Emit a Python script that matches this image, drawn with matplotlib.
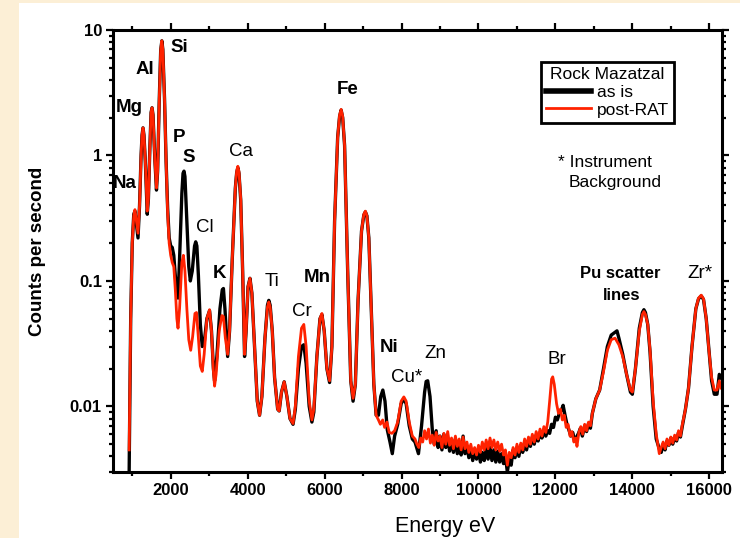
import matplotlib
matplotlib.use("Agg")
import matplotlib.pyplot as plt
from matplotlib.ticker import FixedLocator, FixedFormatter, LogLocator, NullFormatter, MultipleLocator
from matplotlib.patches import Rectangle

plt.rcParams['font.family'] = ['Liberation Sans', 'DejaVu Sans']

# APXS spectrum of rock Mazatzal
# "as is" (black)
energy_asis = [920, 925, 960, 1000, 1040, 1070, 1110, 1150, 1190, 1230,
               1255, 1280, 1305, 1340, 1390, 1420, 1460, 1490, 1515, 1540,
               1590, 1630, 1660, 1700, 1740, 1770, 1795, 1840, 1880, 1920,
               1960, 2000, 2040, 2080, 2120, 2160, 2190, 2230, 2290, 2320,
               2345, 2370, 2420, 2470, 2510, 2560, 2620, 2650, 2680, 2720,
               2770, 2820, 2870, 2940, 3010, 3060, 3110, 3140, 3200, 3280,
               3340, 3370, 3410, 3480, 3530, 3600, 3680, 3715, 3745, 3775,
               3820, 3870, 3920, 3960, 4010, 4060, 4110, 4180, 4250, 4310,
               4370, 4450, 4515, 4550, 4585, 4640, 4700, 4780, 4820, 4880,
               4950, 5020, 5100, 5180, 5240, 5320, 5400, 5460, 5520, 5600,
               5670, 5720, 5800, 5880, 5930, 5990, 6060, 6130, 6190, 6260,
               6340, 6390, 6430, 6470, 6520, 6600, 6680, 6740, 6800, 6870,
               6960, 7020, 7060, 7100, 7150, 7200, 7280, 7340, 7400, 7460,
               7514, 7570, 7630, 7700, 7760, 7820, 7900, 7990, 8060, 8120,
               8200, 8280, 8350, 8440, 8520, 8600, 8640, 8680, 8740, 8800,
               8850, 8900, 8950, 9000, 9050, 9100, 9150, 9200, 9250, 9300,
               9350, 9400, 9450, 9500, 9550, 9600, 9650, 9700, 9750, 9800,
               9850, 9900, 9950, 10000, 10050, 10100, 10150, 10200, 10250, 10300,
               10350, 10400, 10450, 10500, 10550, 10600, 10650, 10700, 10750, 10800,
               10850, 10900, 10950, 11000, 11050, 11100, 11150, 11200, 11250, 11300,
               11350, 11400, 11450, 11500, 11550, 11600, 11650, 11700, 11750,
               11800, 11850, 11900, 11950, 12000, 12050, 12100, 12150, 12200, 12250,
               12300, 12350, 12400, 12450, 12500, 12550, 12600, 12650, 12700, 12760,
               12810, 12860, 12910, 12960, 13050, 13150, 13250, 13350, 13450, 13550,
               13600, 13650, 13750, 13850, 13950, 14000, 14080, 14180, 14260, 14300,
               14340, 14400, 14460, 14540, 14620, 14700, 14750, 14800, 14850, 14900,
               14950, 15000, 15050, 15100, 15150, 15200, 15250, 15300, 15380, 15460,
               15550, 15650, 15720, 15790, 15850, 15920, 15990, 16060, 16130, 16200,
               16260, 16300]
counts_asis = [0.003, 0.0045, 0.05, 0.2, 0.34, 0.36, 0.28, 0.22, 0.40, 1.0,
               1.45, 1.66, 1.45, 0.9, 0.34, 0.45, 1.2, 2.2, 2.4, 2.1,
               0.9, 0.53, 0.75, 2.6, 6.9, 8.2, 7.0, 2.8, 0.9, 0.38,
               0.22, 0.19, 0.185, 0.16, 0.11, 0.08, 0.073, 0.15, 0.5, 0.72,
               0.75, 0.68, 0.3, 0.13, 0.1, 0.12, 0.19, 0.205, 0.19, 0.11,
               0.045, 0.030, 0.032, 0.05, 0.058, 0.04, 0.02, 0.016, 0.025, 0.06,
               0.085, 0.087, 0.06, 0.025, 0.04, 0.15, 0.55, 0.73, 0.8, 0.72,
               0.44, 0.12, 0.025, 0.04, 0.09, 0.105, 0.08, 0.03, 0.011, 0.0085,
               0.012, 0.035, 0.064, 0.07, 0.064, 0.04, 0.017, 0.0095, 0.0092, 0.013,
               0.0157, 0.012, 0.008, 0.0072, 0.0095, 0.02, 0.03, 0.031, 0.022, 0.01,
               0.0075, 0.009, 0.025, 0.05, 0.054, 0.04, 0.02, 0.0155, 0.03, 0.3,
               1.4, 2.05, 2.3, 2.0, 1.2, 0.12, 0.016, 0.011, 0.015, 0.07,
               0.25, 0.335, 0.355, 0.33, 0.22, 0.08, 0.015, 0.0085, 0.0085, 0.012,
               0.0135, 0.011, 0.0065, 0.0052, 0.0042, 0.0058, 0.0072, 0.0105, 0.0115, 0.0105,
               0.007, 0.0055, 0.0052, 0.0042, 0.007, 0.013, 0.0158, 0.016, 0.012, 0.0065,
               0.005, 0.0064, 0.0047, 0.0058, 0.0045, 0.006, 0.0047, 0.0056, 0.0044, 0.0054,
               0.0043, 0.0055, 0.0042, 0.0052, 0.0041, 0.0058, 0.0042, 0.0048, 0.0039, 0.0046,
               0.0037, 0.0044, 0.0038, 0.0045, 0.0036, 0.0043, 0.0037, 0.0046, 0.0038, 0.0047,
               0.0037, 0.0045, 0.0036, 0.0044, 0.0036, 0.0042, 0.0035, 0.004, 0.003, 0.0038,
               0.0034, 0.0045, 0.0039, 0.0047, 0.004, 0.0049, 0.0043, 0.0052, 0.0045, 0.0054,
               0.0048, 0.0057, 0.005, 0.0059, 0.0053, 0.0062, 0.0056, 0.0065, 0.0058,
               0.0064, 0.0061, 0.0072, 0.0068, 0.0082, 0.0078, 0.0088, 0.0092, 0.0102, 0.0085,
               0.0072, 0.0065, 0.0058, 0.0062, 0.0053, 0.0057, 0.0061, 0.0067, 0.0058, 0.007,
               0.0063, 0.0073, 0.0067, 0.0088, 0.0115, 0.0135, 0.02, 0.03, 0.037, 0.039,
               0.04, 0.035, 0.026, 0.018, 0.013, 0.0125, 0.02, 0.042, 0.056, 0.059,
               0.056, 0.045, 0.027, 0.01, 0.0055, 0.0046, 0.0043, 0.005, 0.0045, 0.0053,
               0.0049, 0.0056, 0.005, 0.0057, 0.0053, 0.0062, 0.0057, 0.007, 0.0095, 0.014,
               0.03, 0.06, 0.072, 0.076, 0.071, 0.05, 0.028, 0.016, 0.0125, 0.0125,
               0.018, 0.017]

# "post-RAT" (red)
energy_rat = [920, 960, 1000, 1040, 1070, 1110, 1150, 1190, 1230, 1255,
              1280, 1305, 1340, 1390, 1420, 1460, 1490, 1515, 1540, 1590,
              1630, 1660, 1700, 1740, 1770, 1795, 1840, 1880, 1920, 1960,
              2000, 2040, 2080, 2120, 2160, 2190, 2230, 2290, 2330, 2370,
              2420, 2470, 2520, 2570, 2630, 2670, 2720, 2770, 2820, 2870,
              2940, 3010, 3060, 3110, 3140, 3180, 3260, 3330, 3370, 3420,
              3480, 3530, 3600, 3680, 3715, 3745, 3775, 3820, 3870, 3920,
              3960, 4010, 4060, 4110, 4180, 4250, 4310, 4370, 4450, 4515,
              4550, 4585, 4640, 4700, 4780, 4820, 4880, 4950, 5020, 5100,
              5180, 5240, 5320, 5400, 5460, 5520, 5600, 5670, 5720, 5800,
              5880, 5930, 5990, 6060, 6130, 6190, 6260, 6340, 6390, 6430,
              6470, 6520, 6600, 6680, 6740, 6800, 6870, 6960, 7020, 7060,
              7100, 7150, 7200, 7280, 7340, 7400, 7450, 7510, 7560, 7620,
              7680, 7750, 7820, 7900, 7990, 8060, 8120, 8200, 8280, 8350,
              8400, 8450, 8500, 8550, 8600, 8650, 8700, 8750, 8800, 8850,
              8900, 8950, 9000, 9050, 9100, 9150, 9200, 9250, 9300, 9350,
              9400, 9450, 9500, 9550, 9600, 9650, 9700, 9750, 9800, 9850,
              9900, 9950, 10000, 10050, 10100, 10150, 10200, 10250, 10300, 10350,
              10400, 10450, 10500, 10550, 10600, 10650, 10700, 10750, 10800, 10850,
              10900, 10950, 11000, 11050, 11100, 11150, 11200, 11250, 11300, 11350,
              11400, 11450, 11500, 11550, 11600, 11650, 11700, 11750,
              11800, 11850, 11900, 11930, 11970, 12030, 12080, 12130, 12180, 12230,
              12280, 12330, 12380, 12430, 12480, 12530, 12560, 12610, 12660, 12710,
              12760, 12810, 12860, 12910, 12960, 13050, 13150, 13250, 13350, 13450,
              13550, 13650, 13750, 13850, 13950, 14000, 14080, 14180, 14260, 14300,
              14340, 14400, 14460, 14540, 14620, 14700, 14750, 14800, 14850, 14900,
              14950, 15000, 15050, 15100, 15150, 15200, 15250, 15300, 15380, 15460,
              15550, 15650, 15720, 15790, 15850, 15920, 15990, 16060, 16130, 16200,
              16260, 16300]
counts_rat = [0.0045, 0.05, 0.2, 0.33, 0.37, 0.30, 0.24, 0.40, 1.0, 1.45,
              1.66, 1.45, 0.9, 0.36, 0.45, 1.2, 2.2, 2.4, 2.1, 0.9,
              0.55, 0.75, 2.6, 6.9, 8.2, 7.0, 2.8, 0.9, 0.35, 0.2,
              0.16, 0.14, 0.13, 0.085, 0.05, 0.042, 0.06, 0.14, 0.16, 0.12,
              0.06, 0.034, 0.028, 0.036, 0.055, 0.056, 0.035, 0.021, 0.019, 0.026,
              0.05, 0.059, 0.04, 0.019, 0.0145, 0.018, 0.04, 0.053, 0.052, 0.035,
              0.026, 0.04, 0.15, 0.55, 0.75, 0.82, 0.74, 0.45, 0.12, 0.026,
              0.04, 0.09, 0.105, 0.08, 0.03, 0.011, 0.0085, 0.012, 0.035, 0.062,
              0.068, 0.062, 0.04, 0.017, 0.0095, 0.0092, 0.013, 0.0157, 0.012, 0.008,
              0.0073, 0.01, 0.025, 0.042, 0.045, 0.03, 0.011, 0.0078, 0.0095, 0.025,
              0.05, 0.055, 0.04, 0.02, 0.016, 0.03, 0.3, 1.4, 2.1, 2.33,
              2.05, 1.2, 0.12, 0.016, 0.0116, 0.015, 0.07, 0.25, 0.34, 0.36,
              0.33, 0.22, 0.08, 0.015, 0.0085, 0.0078, 0.0072, 0.0078, 0.0068, 0.0075,
              0.0062, 0.0061, 0.0064, 0.0075, 0.011, 0.0119, 0.011, 0.0075, 0.0058, 0.0055,
              0.005, 0.0047, 0.0056, 0.0052, 0.0064, 0.0055, 0.0066, 0.0051, 0.0059, 0.0049,
              0.0062, 0.0053, 0.0058, 0.0047, 0.0061, 0.005, 0.0063, 0.0049, 0.0056, 0.0046,
              0.0058, 0.0048, 0.0055, 0.0045, 0.0057, 0.0046, 0.0052, 0.0043, 0.005, 0.0042,
              0.0047, 0.0041, 0.0049, 0.0043, 0.0052, 0.0045, 0.0054, 0.0046, 0.0056, 0.0047,
              0.0054, 0.0045, 0.0052, 0.0044, 0.005, 0.0041, 0.0045, 0.0034, 0.0043, 0.0039,
              0.0047, 0.0041, 0.005, 0.0043, 0.0051, 0.0045, 0.0055, 0.0048, 0.0057, 0.005,
              0.006, 0.0052, 0.0063, 0.0055, 0.0066, 0.0058, 0.0069, 0.0062,
              0.0075, 0.011, 0.0165, 0.0172, 0.015, 0.0105, 0.0088, 0.0095, 0.0078, 0.0085,
              0.0068, 0.0072, 0.0058, 0.0063, 0.0052, 0.0056, 0.0048, 0.0062, 0.0069, 0.006,
              0.0072, 0.0064, 0.0075, 0.007, 0.0088, 0.0115, 0.0135, 0.019, 0.028, 0.034,
              0.035, 0.031, 0.025, 0.018, 0.0135, 0.013, 0.02, 0.04, 0.054, 0.057,
              0.054, 0.045, 0.028, 0.011, 0.006, 0.0042, 0.0047, 0.0052, 0.0046, 0.0055,
              0.0049, 0.0057, 0.0051, 0.0059, 0.0054, 0.0064, 0.0058, 0.0072, 0.0095, 0.014,
              0.03, 0.06, 0.073, 0.077, 0.072, 0.05, 0.028, 0.017, 0.0135, 0.0135,
              0.016, 0.014]

# element labels: text, position in reference pixels, bold or not
peak_labels = ["Si", "Al", "Mg", "P", "S", "Na", "Ca", "Cl", "Fe", "K", "Ti", "Mn", "Cr",
               "Ni", "Cu*", "Zn", "Br", "Zr*"]
label_px = [(179, 47), (145, 69), (129, 108), (179, 137), (189, 157), (125, 183), (241, 152),
            (205, 228), (348, 89), (220, 273), (272, 282), (317, 277), (302, 312),
            (389, 347), (407, 378), (435, 354), (557, 360), (700, 273)]
label_bold = [True, True, True, True, True, True, False, False, True, True, False, True, False,
              True, False, False, False, False]

W, H = 740, 538
fig = plt.figure(figsize=(W / 100, H / 100), dpi=100)
fig.patch.set_facecolor('#fcefd6')
fig.patches.append(Rectangle((19 / W, 0), 1 - 19 / W, 1 - 3 / H, transform=fig.transFigure,
                             facecolor='white', edgecolor='none', zorder=-10))

ax = fig.add_axes([113 / W, 1 - 472 / H, (722 - 113) / W, (472 - 30) / H])
ax.plot(energy_asis, counts_asis, color='black', lw=2.4, label='as is', solid_joinstyle='round')
ax.plot(energy_rat, counts_rat, color='#ff2200', lw=2.0, label='post-RAT', solid_joinstyle='round')

ax.set_yscale('log')
ax.set_xlim(500, 16330)
ax.set_ylim(0.003, 10)

ax.xaxis.set_major_locator(FixedLocator([2000, 4000, 6000, 8000, 10000, 12000, 14000, 16000]))
ax.xaxis.set_minor_locator(MultipleLocator(1000))
ax.yaxis.set_major_locator(FixedLocator([0.01, 0.1, 1, 10]))
ax.yaxis.set_major_formatter(FixedFormatter(['0.01', '0.1', '1', '10']))
ax.yaxis.set_minor_locator(LogLocator(base=10, subs=range(2, 10)))
ax.yaxis.set_minor_formatter(NullFormatter())

ax.tick_params(which='both', direction='out', top=True, right=True, width=1.6)
ax.tick_params(which='major', length=5, labelsize=12, pad=3)
ax.tick_params(which='minor', length=3)
for lab in ax.get_xticklabels() + ax.get_yticklabels():
    lab.set_fontweight('bold')
for s in ax.spines.values():
    s.set_linewidth(2.2)

ax.set_xlabel("Energy eV", fontsize=15.5)
ax.xaxis.set_label_coords(0.545, -0.1)
ax.set_ylabel("Counts per second", fontsize=13.5, fontweight='bold')
ax.yaxis.set_label_coords(-0.11, 0.5)

for t, (px, py), b in zip(peak_labels, label_px, label_bold):
    fig.text(px / W, 1 - py / H, t, ha='center', va='center', fontsize=13.5,
             fontweight='bold' if b else 'normal')
fig.text(620 / W, 1 - 273 / H, "Pu scatter", ha='center', va='center', fontsize=12, fontweight='bold')
fig.text(622 / W, 1 - 295 / H, "lines", ha='center', va='center', fontsize=12, fontweight='bold')
fig.text(558 / W, 1 - 163 / H, "* Instrument", ha='left', va='center', fontsize=12.5)
fig.text(569 / W, 1 - 183 / H, "Background", ha='left', va='center', fontsize=12.5)

leg = ax.legend(title="Rock Mazatzal", loc='upper left', bbox_to_anchor=(0.703, 0.928),
                borderaxespad=0, fancybox=False, framealpha=1, edgecolor='black',
                fontsize=12.5, title_fontsize=12.5, handlelength=2.6, handletextpad=0.3,
                borderpad=0.3, labelspacing=0.15)
leg.get_frame().set_linewidth(2)
leg.get_lines()[0].set_linewidth(4)

fig.savefig("out.png", dpi=100, facecolor=fig.get_facecolor())
